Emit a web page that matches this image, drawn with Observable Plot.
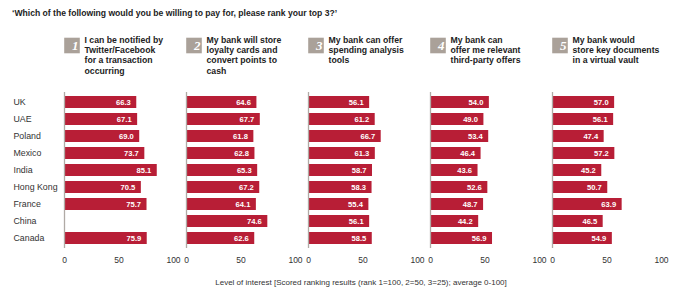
<!DOCTYPE html>
<html><head><meta charset="utf-8">
<script src="https://cdn.jsdelivr.net/npm/d3@7"></script>
<script src="https://cdn.jsdelivr.net/npm/@observablehq/plot@0.6"></script>
<style>
body{margin:0;background:#fff;font-family:"Liberation Sans",Arial,sans-serif;}
#wrap{position:relative;width:678px;height:289px;overflow:hidden}
#title{position:absolute;left:12px;top:8px;font-size:8.6px;font-weight:bold;color:#222;white-space:nowrap;line-height:10px}
#caption{position:absolute;top:278px;left:361px;transform:translateX(-50%);font-size:8px;color:#333;white-space:nowrap;line-height:10px}
#chart{position:absolute;left:0;top:0}
</style>
</head><body>
<div id="wrap">
<div id="chart"></div>
<div id="title">‘Which of the following would you be willing to pay for, please rank your top 3?’</div>
<div id="caption">Level of interest [Scored ranking results (rank 1=100, 2=50, 3=25); average 0-100]</div>
</div>
<script>
const countries = ["UK", "UAE", "Poland", "Mexico", "India", "Hong Kong", "France", "China", "Canada"];
const questionIds = [1, 2, 3, 4, 5];
const questionTexts = [
  "I can be notified by\nTwitter/Facebook\nfor a transaction\noccurring",
  "My bank will store\nloyalty cards and\nconvert points to\ncash",
  "My bank can offer\nspending analysis\ntools",
  "My bank can\noffer me relevant\nthird-party offers",
  "My bank would\nstore key documents\nin a virtual vault"
];
const q1Values = [66.3, 67.1, 69.0, 73.7, 85.1, 70.5, 75.7, null, 75.9];
const q2Values = [64.6, 67.7, 61.8, 62.8, 65.3, 67.2, 64.1, 74.6, 62.6];
const q3Values = [56.1, 61.2, 66.7, 61.3, 58.7, 58.3, 55.4, 56.1, 58.5];
const q4Values = [54.0, 49.0, 53.4, 46.4, 43.6, 52.6, 48.7, 44.2, 56.9];
const q5Values = [57.0, 56.1, 47.4, 57.2, 45.2, 50.7, 63.9, 46.5, 54.9];
const xTicks = [0, 50, 100];

const series = [q1Values, q2Values, q3Values, q4Values, q5Values];
const data = [];
series.forEach((vals, i) => vals.forEach((v, j) => {
  if (v != null) data.push({q: questionIds[i], country: countries[j], value: v});
}));
const headers = questionIds.map((id, i) => ({q: id, text: questionTexts[i]}));

const chart = Plot.plot({
  width: 678, height: 289,
  marginTop: 92, marginBottom: 41, marginLeft: 62, marginRight: 15,
  style: {fontFamily: "'Liberation Sans', Arial, sans-serif", fontSize: "8.5px", color: "#333", background: "transparent"},
  fx: {domain: questionIds, paddingInner: 0.106, paddingOuter: 0, axis: null, label: null},
  x: {domain: [0, 100], label: null},
  y: {domain: countries, paddingInner: 0.31, paddingOuter: 0.15, label: null},
  marks: [
    Plot.barX(data, {fx: "q", y: "country", x: "value", fill: "#b81e36"}),
    Plot.text(data, {fx: "q", y: "country", x: "value", text: d => d.value.toFixed(1), textAnchor: "end", dx: -6, fill: "white", fontWeight: "bold", fontSize: 7.6}),
    Plot.ruleX([0], {stroke: "#b0aaa5", strokeWidth: 1.3}),
    Plot.axisX({ticks: xTicks, tickSize: 0, tickPadding: 8, fontSize: 8.5, fill: "#333", label: null}),
    Plot.axisY({tickSize: 0, tickPadding: 0, textAnchor: "start", dx: -51, fontSize: 8.8, fill: "#333", label: null}),
    Plot.dot(headers, {fx: "q", frameAnchor: "top-left", symbol: "square", r: 8.8, fill: "#aaa199", dx: 7.5, dy: -47}),
    Plot.text(headers, {fx: "q", frameAnchor: "top-left", lineAnchor: "middle", text: d => String(d.q), dx: 7.5, dy: -47, fill: "white", fontFamily: "'Liberation Serif', serif", fontStyle: "italic", fontWeight: "bold", fontSize: 13}),
    Plot.text(headers, {fx: "q", frameAnchor: "top-left", text: "text", textAnchor: "start", lineAnchor: "top", dx: 20, dy: -57, fontWeight: "bold", fontSize: 8.7, lineHeight: 1.18, fill: "#222"})
  ]
});
document.getElementById("chart").appendChild(chart);
</script>
</body></html>
